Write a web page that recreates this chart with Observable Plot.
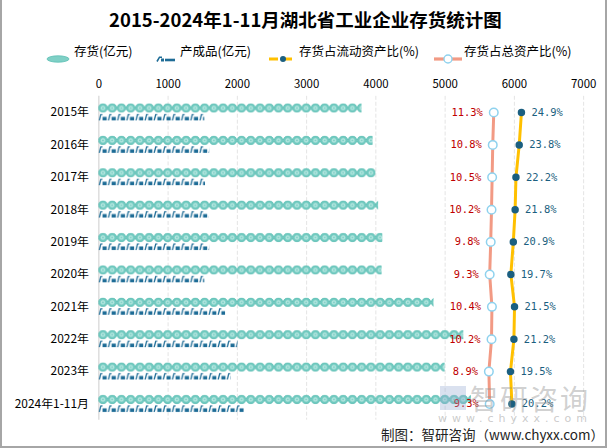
<!DOCTYPE html>
<html><head><meta charset="utf-8">
<script src="https://cdn.jsdelivr.net/npm/d3@7"></script>
<script src="https://cdn.jsdelivr.net/npm/@observablehq/plot@0.6"></script>
<style>
html,body{margin:0;padding:0;background:#fff;}
#wrap{position:relative;width:607px;height:448px;box-sizing:border-box;border-left:2px solid #a6a6a6;border-right:2px solid #a6a6a6;border-bottom:2px solid #a6a6a6;overflow:hidden;font-family:"Noto Sans CJK SC","Noto Sans",sans-serif;}
#title{position:absolute;left:0;top:6px;width:607px;text-align:center;font-size:18.5px;font-weight:bold;color:#000;font-family:"Noto Sans CJK SC",sans-serif;}
.lg{position:absolute;top:43px;font-size:12.5px;color:#000;white-space:nowrap;line-height:16px;}
.lm{position:absolute;top:45px;}
#chart{position:absolute;left:-2px;top:70px;}
#foot{position:absolute;left:379px;top:424px;font-size:13.5px;color:#222;white-space:nowrap;}
#wm1{position:absolute;left:468px;top:378px;font-size:28px;color:rgba(150,150,150,0.45);letter-spacing:2px;white-space:nowrap;}
#wm2{position:absolute;left:436px;top:412px;font-size:11px;color:rgba(150,150,150,0.5);letter-spacing:5px;white-space:nowrap;font-family:"DejaVu Sans",sans-serif;}
#wmlogo{position:absolute;left:438px;top:386px;width:26px;height:24px;background:rgba(150,170,210,0.35);}
</style></head>
<body>
<div id="wrap">
  <div id="title">2015-2024年1-11月湖北省工业企业存货统计图</div>
  <div id="legend"></div>
  <div id="chart"></div>
  <div id="wmlogo"></div>
  <div id="wm1">智研咨询</div>
  <div id="wm2">www.chyxx.com</div>
  <div id="foot">制图：智研咨询（www.chyxx.com）</div>
</div>
<script>
// ---- data ----
const years = ["2015年","2016年","2017年","2018年","2019年","2020年","2021年","2022年","2023年","2024年1-11月"];
const inventory = [3800, 3960, 4000, 4040, 4100, 4090, 4840, 5270, 5000, 5380];      // 存货(亿元)
const finished  = [1530, 1600, 1540, 1590, 1600, 1530, 1830, 2010, 1910, 2100];      // 产成品(亿元)
const ratioCurrent = [24.9, 23.8, 22.2, 21.8, 20.9, 19.7, 21.5, 21.2, 19.5, 20.2];  // 存货占流动资产比(%)
const ratioTotal   = [11.3, 10.8, 10.5, 10.2, 9.8, 9.3, 10.4, 10.2, 8.9, 9.3];       // 存货占总资产比(%)
const xTicks = [0,1000,2000,3000,4000,5000,6000,7000];
const seriesNames = ["存货(亿元)","产成品(亿元)","存货占流动资产比(%)","存货占总资产比(%)"];

// secondary (percentage) axis mapped into the primary axis units
const pct = d3.scaleLinear().domain([0,100]).range([5370, 8310]);

const rows = years.map((y,i)=>({year:y, inv:inventory[i], fin:finished[i], rc:ratioCurrent[i], rt:ratioTotal[i], rcx:pct(ratioCurrent[i]), rtx:pct(ratioTotal[i])}));

const W = 609, marginTop = 26, marginBottom = 26, marginLeft = 99, marginRight = 22;
const H = 378;
const step = (H - marginTop - marginBottom) / years.length;

const chart = Plot.plot({
  width: W, height: H,
  marginTop, marginBottom, marginLeft, marginRight,
  style:{fontFamily:'"Noto Sans CJK SC","Noto Sans",sans-serif', background:"transparent"},
  x:{domain:[0,7000], axis:"top", ticks:xTicks, tickSize:0, tickPadding:8, label:null, tickFormat:d=>String(d)},
  y:{domain:years, padding:0, round:false, label:null, tickSize:0, tickPadding:10},
  marks:[
    Plot.gridX(xTicks.slice(1), {stroke:"#e4e4e4", strokeOpacity:1, strokeDasharray:"4,2"}),
    Plot.ruleX([0], {stroke:"#d4d4d4", strokeWidth:1.2}),
    Plot.barX(rows, {x:"inv", y:"year", fill:"url(#invPat)", insetTop:7.5, insetBottom:step-17}),
    Plot.barX(rows, {x:"fin", y:"year", fill:"url(#finPat)", insetTop:18, insetBottom:step-25}),
    Plot.line(rows, {x:"rtx", y:"year", stroke:"#f29a84", strokeWidth:3}),
    Plot.line(rows, {x:"rcx", y:"year", stroke:"#ffc000", strokeWidth:3}),
    Plot.dot(rows, {x:"rtx", y:"year", r:4.3, fill:"#ffffff", stroke:"#8fd2ee", strokeWidth:1.5}),
    Plot.dot(rows, {x:"rcx", y:"year", r:3, fill:"#1b5f80", stroke:"#1b5f80"}),
    Plot.text(rows, {x:"rtx", y:"year", text:d=>d.rt.toFixed(1)+"%", textAnchor:"end", dx:-11, fill:"#c00000", fontSize:10.5, fontFamily:"DejaVu Sans Mono, monospace"}),
    Plot.text(rows, {x:"rcx", y:"year", text:d=>d.rc.toFixed(1)+"%", textAnchor:"start", dx:10, fill:"#1b5f80", fontSize:10.5, fontFamily:"DejaVu Sans Mono, monospace"})
  ]
});

// patterns for the pictorial bars
const ns = "http://www.w3.org/2000/svg";
const defs = document.createElementNS(ns, "defs");
defs.innerHTML = `
<pattern id="invPat" patternUnits="userSpaceOnUse" x="${marginLeft}" y="${marginTop}" width="9.3" height="${step}">
  <circle cx="4.65" cy="12.25" r="4.35" fill="#6fcac0" stroke="#55bbb0" stroke-width="0.8"/>
  <circle cx="4.65" cy="12.25" r="2.6" fill="#b4e6df" stroke="#6cc6bb" stroke-width="0.6"/>
  <circle cx="4.65" cy="12.25" r="0.9" fill="#7ccfc5"/>
</pattern>
<pattern id="finPat" patternUnits="userSpaceOnUse" x="${marginLeft}" y="${marginTop}" width="9.2" height="${step}">
  <path d="M1,25 L2.6,18.6 L4.2,18.6" fill="none" stroke="#1e6c96" stroke-width="1.3"/>
  <rect x="4.2" y="21.2" width="4.2" height="3.8" fill="#1e6c96"/>
</pattern>`;
chart.insertBefore(defs, chart.firstChild);
chart.querySelectorAll('g[aria-label="x-axis tick label"]').forEach(e=>e.setAttribute("font-size","11.5"));
chart.querySelectorAll('g[aria-label="y-axis tick label"]').forEach(e=>{e.setAttribute("font-size","12");e.setAttribute("fill","#000");});
document.getElementById("chart").appendChild(chart);

// legend
const lg = document.getElementById("legend");
const markers = [
  `<svg width="24" height="10"><ellipse cx="12" cy="5" rx="11" ry="3.2" fill="#7fd0c6" stroke="#5cbfb4" stroke-width="0.8"/></svg>`,
  `<svg width="22" height="10"><path d="M3,7.5 L5.5,3.2 L8,3.2" fill="none" stroke="#1e6c96" stroke-width="1.6"/><rect x="7" y="4.5" width="3" height="3" fill="#1e6c96"/><line x1="11" y1="6" x2="21" y2="6" stroke="#1e6c96" stroke-width="2.6"/></svg>`,
  `<svg width="28" height="10"><line x1="0" y1="5" x2="28" y2="5" stroke="#ffc000" stroke-width="3.2" stroke-dasharray="9,5"/><circle cx="14" cy="5" r="3" fill="#1b5f80"/></svg>`,
  `<svg width="28" height="10"><line x1="0" y1="5" x2="28" y2="5" stroke="#f29a84" stroke-width="3.2"/><circle cx="14" cy="5" r="4" fill="#fff" stroke="#8fd2ee" stroke-width="1.4"/></svg>`
];
const markerX = [44, 152, 267, 432];
const textX = [72, 178, 297, 462];
seriesNames.forEach((n,i)=>{
  const m = document.createElement("div"); m.className="lm"; m.style.left=markerX[i]+"px"; m.innerHTML=markers[i]; lg.appendChild(m);
  const t = document.createElement("div"); t.className="lg"; t.style.left=textX[i]+"px"; t.textContent=n; lg.appendChild(t);
});
</script>
</body></html>
